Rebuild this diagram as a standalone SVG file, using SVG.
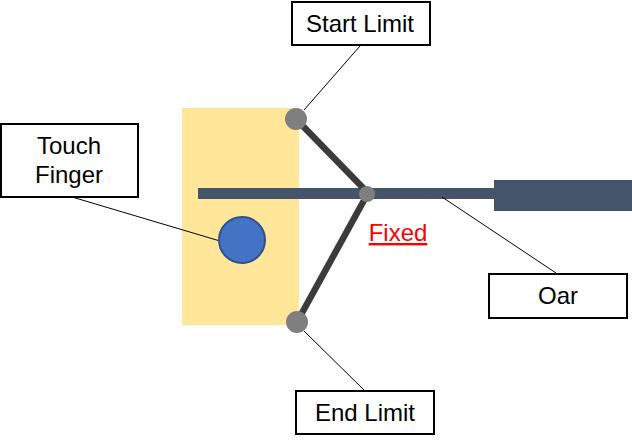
<svg xmlns="http://www.w3.org/2000/svg" width="632" height="442" viewBox="0 0 632 442">
<style>
.box{fill:#fff;stroke:#000;stroke-width:2}
.lbl{font-family:"Liberation Sans",Arial,sans-serif;font-size:24px;fill:#000;text-anchor:middle}
.lead{fill:none;stroke:#000;stroke-width:1}
.arm{fill:none;stroke:#3b3b3b;stroke-width:6.5}
.pin{fill:#7f7f7f}
.oar{fill:#44546a}
.fx{font-family:"Liberation Sans",Arial,sans-serif;font-size:24px;fill:#f00;text-anchor:middle;text-decoration:underline;text-decoration-thickness:2.5px;text-underline-offset:3px}
</style>
<rect width="632" height="442" fill="#fff"/>
<g id="zone"><rect x="182" y="108" width="117" height="217" fill="#ffe699"/></g>
<g id="oar">
<rect class="oar" x="198" y="188" width="297" height="11"/>
<rect class="oar" x="494" y="180" width="138" height="31"/>
</g>
<g id="arms">
<path class="arm" d="M296 119L369 194"/>
<path class="arm" d="M367.500 194L297 322"/>
</g>
<g id="connectors">
<path class="lead" d="M360 46L304 110"/>
<path class="lead" d="M72 197L220 241"/>
<path class="lead" d="M442 197L556 273"/>
<path class="lead" d="M304 331L364 390"/>
</g>
<g id="touch-point"><circle cx="242" cy="240" r="23" fill="#4472c4" stroke="#2f528f" stroke-width="2"/></g>
<g id="start-pin"><circle class="pin" cx="296" cy="119" r="11"/></g>
<g id="end-pin"><circle class="pin" cx="297" cy="322" r="11"/></g>
<g id="fixed-pin"><circle class="pin" cx="367" cy="194" r="8"/></g>
<g id="fixed-label"><text class="fx" x="398" y="241">Fixed</text></g>
<g id="touch-finger"><rect class="box" x="1" y="124" width="137" height="73"/>
<text class="lbl" x="69" y="154">Touch</text><text class="lbl" x="69" y="183">Finger</text></g>
<g id="start-limit"><rect class="box" x="292" y="2" width="138" height="43"/><text class="lbl" x="360" y="32">Start Limit</text></g>
<g id="end-limit"><rect class="box" x="296" y="391" width="138" height="43"/><text class="lbl" x="365" y="421">End Limit</text></g>
<g id="oar-label"><rect class="box" x="489" y="274" width="138" height="44"/><text class="lbl" x="558" y="304">Oar</text></g>
</svg>
